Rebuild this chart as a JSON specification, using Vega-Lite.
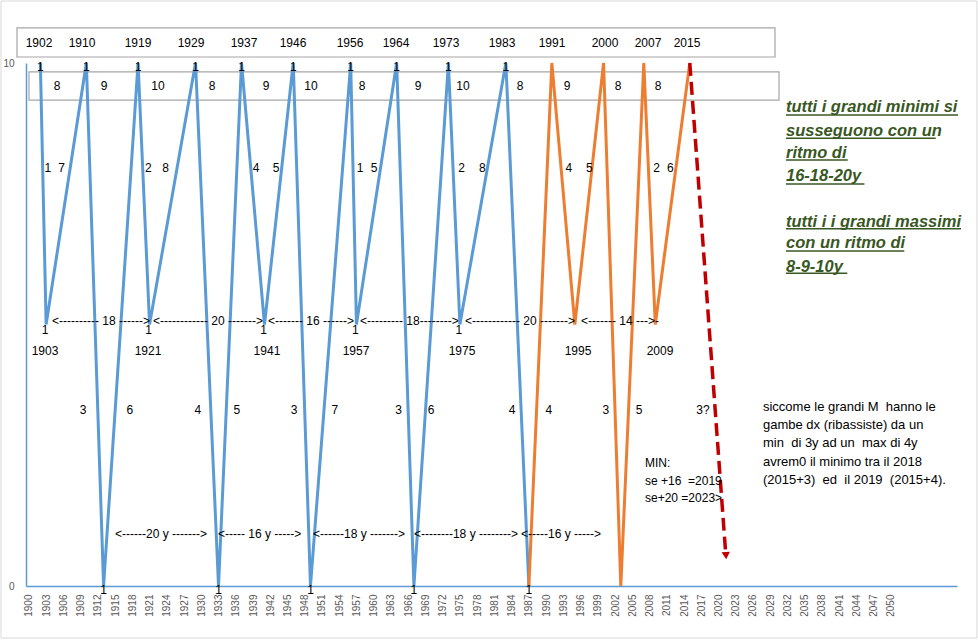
{
  "$schema": "https://vega.github.io/schema/vega-lite/v6.json",
  "width": 931,
  "height": 523,
  "autosize": {"type": "none"},
  "padding": {"left": 26, "top": 63, "right": 21, "bottom": 54},
  "background": "white",
  "config": {"view": {"stroke": null}, "font": "Liberation Sans"},
  "datasets": {
    "blue": [
      {"year": 1902, "value": 10}, {"year": 1903, "value": 5}, {"year": 1910, "value": 10}, {"year": 1913, "value": 0},
      {"year": 1919, "value": 10}, {"year": 1921, "value": 5}, {"year": 1929, "value": 10}, {"year": 1933, "value": 0},
      {"year": 1937, "value": 10}, {"year": 1941, "value": 5}, {"year": 1946, "value": 10}, {"year": 1949, "value": 0},
      {"year": 1956, "value": 10}, {"year": 1957, "value": 5}, {"year": 1964, "value": 10}, {"year": 1967, "value": 0},
      {"year": 1973, "value": 10}, {"year": 1975, "value": 5}, {"year": 1983, "value": 10}, {"year": 1987, "value": 0}
    ],
    "orange": [
      {"year": 1987, "value": 0}, {"year": 1991, "value": 10}, {"year": 1995, "value": 5}, {"year": 2000, "value": 10},
      {"year": 2003, "value": 0}, {"year": 2007, "value": 10}, {"year": 2009, "value": 5}, {"year": 2015, "value": 10}
    ],
    "forecast": [{"year": 2015, "value": 10}, {"year": 2021.2, "value": 0.7}],
    "arrowhead": [{"year": 2021.3, "value": 0.58}],
    "frame": [{"year": 1895.15, "year2": 2064.97, "value": 11.185, "value2": -0.994}],
    "boxes": [
      {"year": 1897.93, "year2": 2029.83, "value": 10.67, "value2": 10.115},
      {"year": 1900.02, "year2": 2030.53, "value": 9.83, "value2": 9.29}
    ],
    "labels": [
      {"label": "1902", "year": 1901.76, "value": 10.38},
      {"label": "1910", "year": 1909.24, "value": 10.38},
      {"label": "1919", "year": 1918.99, "value": 10.38},
      {"label": "1929", "year": 1928.21, "value": 10.38},
      {"label": "1937", "year": 1937.43, "value": 10.38},
      {"label": "1946", "year": 1945.96, "value": 10.38},
      {"label": "1956", "year": 1955.88, "value": 10.38},
      {"label": "1964", "year": 1963.88, "value": 10.38},
      {"label": "1973", "year": 1972.58, "value": 10.38},
      {"label": "1983", "year": 1982.33, "value": 10.38},
      {"label": "1991", "year": 1991.03, "value": 10.38},
      {"label": "2000", "year": 2000.25, "value": 10.38},
      {"label": "2007", "year": 2007.73, "value": 10.38},
      {"label": "2015", "year": 2014.52, "value": 10.38},
      {"label": "8", "year": 1904.89, "value": 9.56},
      {"label": "9", "year": 1913.07, "value": 9.56},
      {"label": "10", "year": 1922.47, "value": 9.56},
      {"label": "8", "year": 1931.86, "value": 9.56},
      {"label": "9", "year": 1941.26, "value": 9.56},
      {"label": "10", "year": 1949.09, "value": 9.56},
      {"label": "8", "year": 1957.97, "value": 9.56},
      {"label": "9", "year": 1967.71, "value": 9.56},
      {"label": "10", "year": 1975.54, "value": 9.56},
      {"label": "8", "year": 1985.46, "value": 9.56},
      {"label": "9", "year": 1993.64, "value": 9.56},
      {"label": "8", "year": 2002.51, "value": 9.56},
      {"label": "8", "year": 2009.47, "value": 9.56},
      {"label": "1", "year": 1903.28, "value": 7.99},
      {"label": "7", "year": 1905.71, "value": 7.99},
      {"label": "2", "year": 1920.78, "value": 7.99},
      {"label": "8", "year": 1923.81, "value": 7.99},
      {"label": "4", "year": 1939.52, "value": 7.99},
      {"label": "5", "year": 1943.0, "value": 7.99},
      {"label": "1", "year": 1957.62, "value": 7.99},
      {"label": "5", "year": 1960.05, "value": 7.99},
      {"label": "2", "year": 1975.31, "value": 7.99},
      {"label": "8", "year": 1978.9, "value": 7.99},
      {"label": "4", "year": 1993.98, "value": 7.99},
      {"label": "5", "year": 1997.52, "value": 7.99},
      {"label": "2", "year": 2009.24, "value": 7.99},
      {"label": "6", "year": 2011.61, "value": 7.99},
      {"label": "1903", "year": 1902.81, "value": 4.49},
      {"label": "1921", "year": 1920.73, "value": 4.49},
      {"label": "1941", "year": 1941.43, "value": 4.49},
      {"label": "1957", "year": 1956.92, "value": 4.49},
      {"label": "1975", "year": 1975.37, "value": 4.49},
      {"label": "1995", "year": 1995.55, "value": 4.49},
      {"label": "2009", "year": 2009.82, "value": 4.49},
      {"label": "3", "year": 1909.42, "value": 3.365},
      {"label": "6", "year": 1917.56, "value": 3.365},
      {"label": "4", "year": 1929.39, "value": 3.365},
      {"label": "5", "year": 1936.2, "value": 3.365},
      {"label": "3", "year": 1946.17, "value": 3.365},
      {"label": "7", "year": 1953.22, "value": 3.365},
      {"label": "3", "year": 1964.35, "value": 3.365},
      {"label": "6", "year": 1969.99, "value": 3.365},
      {"label": "4", "year": 1984.07, "value": 3.365},
      {"label": "4", "year": 1990.49, "value": 3.365},
      {"label": "3", "year": 2000.39, "value": 3.365},
      {"label": "5", "year": 2006.18, "value": 3.365},
      {"label": "3?", "year": 2017.3, "value": 3.365}
    ],
    "arrows": [
      {"label": "<---------- 18 ------>", "year": 1904.02, "value": 5.07},
      {"label": "<------------ 20 ------->", "year": 1921.6, "value": 5.07},
      {"label": "<------- 16 ------>", "year": 1941.61, "value": 5.07},
      {"label": "<--------- 18-------->", "year": 1957.62, "value": 5.07},
      {"label": "<------------ 20 ------->", "year": 1975.89, "value": 5.07},
      {"label": "<------- 14 --->-", "year": 1996.07, "value": 5.07},
      {"label": "<------20 y ------->", "year": 1914.99, "value": 1.0},
      {"label": "<----- 16 y ----->", "year": 1932.91, "value": 1.0},
      {"label": "<------18 y ------->", "year": 1949.44, "value": 1.0},
      {"label": "<--------18 y -------->", "year": 1967.01, "value": 1.0},
      {"label": "<-----16 y ----->", "year": 1985.63, "value": 1.0},
      {"label": "MIN:", "year": 2007.21, "value": 2.352},
      {"label": "se +16 \u00a0=2019", "year": 2007.21, "value": 2.008},
      {"label": "se+20 =2023>", "year": 2007.21, "value": 1.683}
    ],
    "paragraph": [
      {"label": "siccome le grandi M \u00a0hanno le", "year": 2027.74, "value": 3.423},
      {"label": "gambe dx (ribassiste) da un", "year": 2027.74, "value": 3.078},
      {"label": "min \u00a0di 3y ad un \u00a0max di 4y", "year": 2027.74, "value": 2.734},
      {"label": "avrem0 il minimo tra il 2018", "year": 2027.74, "value": 2.371},
      {"label": "(2015+3) \u00a0ed \u00a0il 2019 \u00a0(2015+4).", "year": 2027.74, "value": 2.027}
    ],
    "green": [
      {"label": "tutti i grandi minimi si", "year": 2031.74, "value": 9.164},
      {"label": "susseguono con un", "year": 2031.74, "value": 8.706},
      {"label": "ritmo di", "year": 2031.74, "value": 8.285},
      {"label": "\u00a016-18-20y", "year": 2031.74, "value": 7.839},
      {"label": "tutti i i grandi massimi", "year": 2031.74, "value": 6.966},
      {"label": "con un ritmo di", "year": 2031.74, "value": 6.553},
      {"label": "8-9-10y", "year": 2031.74, "value": 6.105}
    ],
    "underlines": [
      {"year": 2031.74, "year2": 2061.67, "value": 9.006},
      {"year": 2031.74, "year2": 2057.79, "value": 8.56},
      {"year": 2031.74, "year2": 2042.48, "value": 8.145},
      {"year": 2031.74, "year2": 2045.4, "value": 7.686},
      {"year": 2031.74, "year2": 2062.19, "value": 6.832},
      {"year": 2031.74, "year2": 2052.33, "value": 6.405},
      {"year": 2031.74, "year2": 2042.41, "value": 5.979}
    ]
  },
  "encoding": {
    "x": {
      "field": "year", "type": "quantitative",
      "scale": {"domain": [1899.5, 2061.5], "nice": false, "zero": false},
      "axis": {
        "title": null, "grid": false, "ticks": false, "labelAngle": 270, "labelFlush": false, "labelOverlap": false,
        "format": "d", "labelFontSize": 10, "labelColor": "#595959", "labelPadding": 8,
        "domainColor": "#5B9BD5", "domainWidth": 1.5,
        "values": [1900,1903,1906,1909,1912,1915,1918,1921,1924,1927,1930,1933,1936,1939,1942,1945,1948,1951,1954,1957,1960,1963,1966,1969,1972,1975,1978,1981,1984,1987,1990,1993,1996,1999,2002,2005,2008,2011,2014,2017,2020,2023,2026,2029,2032,2035,2038,2041,2044,2047,2050]
      }
    },
    "y": {
      "field": "value", "type": "quantitative",
      "scale": {"domain": [0, 10], "nice": false, "zero": false},
      "axis": {
        "title": null, "grid": false, "ticks": false, "values": [0, 10], "labelFontSize": 10,
        "labelColor": "#595959", "labelPadding": 12, "domainColor": "#5B9BD5", "domainWidth": 1.5
      }
    }
  },
  "layer": [
    {
      "data": {"name": "frame"},
      "mark": {"type": "rect", "fillOpacity": 0, "stroke": "#D9D9D9", "strokeWidth": 1},
      "encoding": {"x2": {"field": "year2"}, "y2": {"field": "value2"}}
    },
    {
      "data": {"name": "boxes"},
      "mark": {"type": "rect", "fillOpacity": 0, "stroke": "#A6A6A6", "strokeWidth": 1.2},
      "encoding": {"x2": {"field": "year2"}, "y2": {"field": "value2"}}
    },
    {
      "data": {"name": "blue"},
      "mark": {"type": "line", "color": "#5B9BD5", "strokeWidth": 3}
    },
    {
      "data": {"name": "orange"},
      "mark": {"type": "line", "color": "#ED7D31", "strokeWidth": 3}
    },
    {
      "data": {"name": "forecast"},
      "mark": {"type": "line", "color": "#C00000", "strokeWidth": 3.5, "strokeDash": [13, 6]}
    },
    {
      "data": {"name": "arrowhead"},
      "mark": {"type": "point", "shape": "triangle-down", "filled": true, "color": "#C00000", "size": 70, "angle": -4, "opacity": 1}
    },
    {
      "data": {"name": "blue"},
      "transform": [{"filter": "datum.value == 10"}],
      "mark": {"type": "text", "text": "1", "fontSize": 12, "color": "#000000", "dy": 4, "baseline": "middle"}
    },
    {
      "data": {"name": "blue"},
      "transform": [{"filter": "datum.value == 5"}],
      "mark": {"type": "text", "text": "1", "fontSize": 12, "color": "#000000", "dy": 5, "dx": -1, "baseline": "middle"}
    },
    {
      "data": {"name": "blue"},
      "transform": [{"filter": "datum.value == 0"}],
      "mark": {"type": "text", "text": "1", "fontSize": 12, "color": "#000000", "dy": 4, "baseline": "middle"}
    },
    {
      "data": {"name": "labels"},
      "mark": {"type": "text", "fontSize": 12, "color": "#000000", "baseline": "middle", "align": "center"},
      "encoding": {"text": {"field": "label"}}
    },
    {
      "data": {"name": "arrows"},
      "mark": {"type": "text", "fontSize": 12, "color": "#000000", "baseline": "middle", "align": "left"},
      "encoding": {"text": {"field": "label"}}
    },
    {
      "data": {"name": "paragraph"},
      "mark": {"type": "text", "fontSize": 13, "color": "#000000", "baseline": "middle", "align": "left"},
      "encoding": {"text": {"field": "label"}}
    },
    {
      "data": {"name": "green"},
      "mark": {"type": "text", "fontSize": 16.5, "fontWeight": "bold", "fontStyle": "italic", "color": "#385723", "baseline": "middle", "align": "left"},
      "encoding": {"text": {"field": "label"}}
    },
    {
      "data": {"name": "underlines"},
      "mark": {"type": "rule", "color": "#385723", "strokeWidth": 1.5},
      "encoding": {"x2": {"field": "year2"}}
    }
  ]
}
